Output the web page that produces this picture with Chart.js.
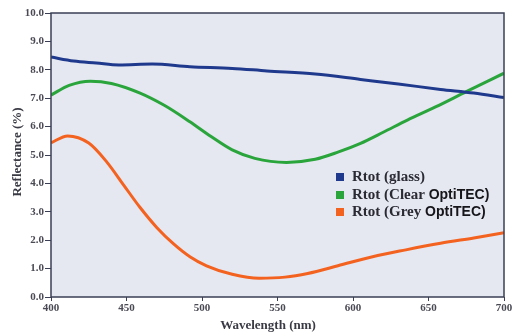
<!DOCTYPE html>
<html><head><meta charset="utf-8">
<script src="https://cdn.jsdelivr.net/npm/chart.js@4.4.0/dist/chart.umd.min.js"></script>
<style>html,body{margin:0;padding:0;background:#fff;}#wrap{width:514px;height:336px;}</style>
</head><body><div id="wrap"><canvas id="c" width="514" height="336"></canvas></div>
<script>
const seriesNames = ['Rtot (glass)', 'Rtot (Clear ', 'Rtot (Grey '];
const legendSuffix = ['', 'OptiTEC)', 'OptiTEC)'];
const xTitle = 'Wavelength (nm)';
const yTitle = 'Reflectance (%)';
const glassX = [400,415,430,445,467,492,520,543,575,605,630,658,680,700];
const glassY = [8.45,8.31,8.24,8.17,8.2,8.11,8.05,7.96,7.85,7.66,7.5,7.31,7.18,7.02];
const clearX = [400,412,426,440,459,475,492,506,520,535,556,575,590,605,620,636,655,675,700];
const clearY = [7.11,7.45,7.6,7.52,7.18,6.75,6.17,5.65,5.18,4.88,4.74,4.85,5.1,5.41,5.8,6.23,6.7,7.23,7.88];
const greyX = [400,411,425,437,448,459,470,481,492,503,520,538,555,570,590,613,635,658,680,700];
const greyY = [5.43,5.67,5.42,4.75,3.95,3.15,2.45,1.88,1.42,1.1,0.8,0.66,0.7,0.83,1.1,1.42,1.66,1.89,2.08,2.26];
const xTicks = [400,450,500,550,600,650,700];
const yTicks = [0,1,2,3,4,5,6,7,8,9,10];
const colors = ['#1f3a8c', '#2aa53c', '#f4621f'];

const pts = (xs, ys) => xs.map((x, i) => ({x: x, y: ys[i]}));

const bgPlugin = {
  id: 'bg',
  beforeDraw(chart) {
    const {ctx, chartArea: a} = chart;
    ctx.save();
    ctx.fillStyle = '#e5e7f1';
    ctx.fillRect(a.left, a.top, a.right - a.left, a.bottom - a.top);
    ctx.restore();
  },
  afterDatasetsDraw(chart) {
    const {ctx, chartArea: a} = chart;
    ctx.save();
    ctx.strokeStyle = '#3a3f55';
    ctx.lineWidth = 1.5;
    ctx.strokeRect(a.left, a.top, a.right - a.left, a.bottom - a.top);
    // legend
    const lx = 336, ly = [177, 195, 212];
    ctx.textBaseline = 'middle';
    for (let i = 0; i < 3; i++) {
      ctx.fillStyle = colors[i];
      ctx.fillRect(lx, ly[i] - 4, 8, 8);
      ctx.font = 'bold 15px "Liberation Serif"';
      ctx.fillStyle = '#2a2a33';
      ctx.fillText(seriesNames[i], lx + 16, ly[i]);
      let w = ctx.measureText(seriesNames[i]).width;
      if (legendSuffix[i]) {
        ctx.font = 'bold 14px "Liberation Sans"';
        ctx.fillStyle = '#15151a';
        ctx.fillText(legendSuffix[i], lx + 16 + w, ly[i] + 0.5);
      }
    }
    // axis titles
    ctx.fillStyle = '#3a3a45';
    ctx.font = 'bold 13px "Liberation Serif"';
    ctx.textAlign = 'center';
    ctx.fillText(xTitle, 268, 326);
    ctx.translate(18, 152);
    ctx.rotate(-Math.PI / 2);
    ctx.fillText(yTitle, 0, 0);
    ctx.restore();
  }
};

new Chart(document.getElementById('c'), {
  type: 'line',
  data: {
    datasets: [
      {label: 'Rtot (glass)', data: pts(glassX, glassY), borderColor: colors[0], borderWidth: 3},
      {label: 'Rtot (Clear OptiTEC)', data: pts(clearX, clearY), borderColor: colors[1], borderWidth: 3},
      {label: 'Rtot (Grey OptiTEC)', data: pts(greyX, greyY), borderColor: colors[2], borderWidth: 3}
    ]
  },
  options: {
    responsive: false,
    animation: false,
    layout: {padding: {top: 13, right: 10, left: 0, bottom: 0}},
    elements: {point: {radius: 0}, line: {cubicInterpolationMode: 'monotone', fill: false}},
    plugins: {legend: {display: false}, tooltip: {enabled: false}},
    scales: {
      x: {
        type: 'linear', min: 400, max: 700,
        afterBuildTicks(s) { s.ticks = xTicks.map(v => ({value: v})); },
        afterFit(s) { s.height = 39; },
        grid: {drawOnChartArea: false, tickLength: 4, color: '#3a3f55'},
        border: {display: false},
        ticks: {color: '#4a4a55', font: {family: 'Liberation Serif', weight: 'bold', size: 11}, padding: 1, maxRotation: 0}
      },
      y: {
        min: 0, max: 10,
        afterBuildTicks(s) { s.ticks = yTicks.map(v => ({value: v})); },
        afterFit(s) { s.width = 51; },
        grid: {drawOnChartArea: false, tickLength: 6, color: '#3a3f55'},
        border: {display: false},
        ticks: {color: '#4a4a55', font: {family: 'Liberation Serif', weight: 'bold', size: 11}, padding: 1, callback: v => v.toFixed(1)}
      }
    }
  },
  plugins: [bgPlugin]
});
</script></body></html>
